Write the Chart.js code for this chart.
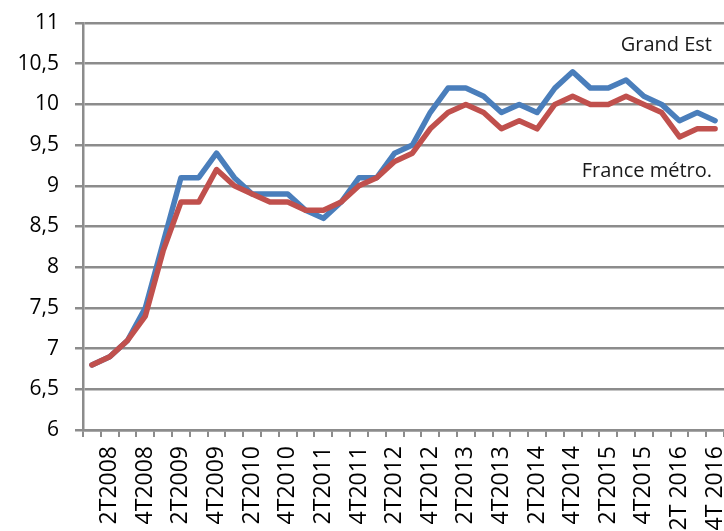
<!DOCTYPE html>
<html lang="fr">
<head>
    <meta charset="UTF-8">
    <title>Grand Est / France métro.</title>
    <style>
        body {
            margin: 0;
            background-color: #ffffff;
        }
        #wrap {
            width: 724px;
            height: 531px;
        }
    </style>
</head>
<body>
    <div id="wrap">
        <canvas id="chart" width="724" height="531"></canvas>
    </div>

    <script src="https://cdn.jsdelivr.net/npm/chart.js"></script>
    <script>
        const quarters = [
            '1T2008', '2T2008', '3T2008', '4T2008',
            '1T2009', '2T2009', '3T2009', '4T2009',
            '1T2010', '2T2010', '3T2010', '4T2010',
            '1T2011', '2T2011', '3T2011', '4T2011',
            '1T2012', '2T2012', '3T2012', '4T2012',
            '1T2013', '2T2013', '3T2013', '4T2013',
            '1T2014', '2T2014', '3T2014', '4T2014',
            '1T2015', '2T2015', '3T2015', '4T2015',
            '1T 2016', '2T 2016', '3T 2016', '4T 2016'
        ];

        const grandEst = [
            6.8, 6.9, 7.1, 7.5, 8.3, 9.1, 9.1, 9.4, 9.1, 8.9, 8.9, 8.9,
            8.7, 8.6, 8.8, 9.1, 9.1, 9.4, 9.5, 9.9, 10.2, 10.2, 10.1, 9.9,
            10.0, 9.9, 10.2, 10.4, 10.2, 10.2, 10.3, 10.1, 10.0, 9.8, 9.9, 9.8
        ];

        const franceMetro = [
            6.8, 6.9, 7.1, 7.4, 8.2, 8.8, 8.8, 9.2, 9.0, 8.9, 8.8, 8.8,
            8.7, 8.7, 8.8, 9.0, 9.1, 9.3, 9.4, 9.7, 9.9, 10.0, 9.9, 9.7,
            9.8, 9.7, 10.0, 10.1, 10.0, 10.0, 10.1, 10.0, 9.9, 9.6, 9.7, 9.7
        ];

        const yMin = 6;
        const yMax = 11;
        const yStep = 0.5;

        const gridColor = '#8c8c8c';
        const font = "'Open Sans', sans-serif";

        // series names written next to the lines
        const seriesLabels = [
            { text: 'Grand Est', x: 712, y: 51 },
            { text: 'France métro.', x: 712, y: 177 }
        ];

        const labelPlugin = {
            id: 'seriesLabels',
            afterDraw(chart) {
                const ctx = chart.ctx;
                ctx.save();
                ctx.font = '20px ' + font;
                ctx.fillStyle = '#1a1a1a';
                ctx.textAlign = 'right';
                ctx.textBaseline = 'alphabetic';
                seriesLabels.forEach(l => ctx.fillText(l.text, l.x, l.y));
                ctx.restore();
            }
        };

        const ctx = document.getElementById('chart').getContext('2d');
        new Chart(ctx, {
            type: 'line',
            data: {
                labels: quarters,
                datasets: [
                    {
                        label: 'France métro.',
                        data: franceMetro,
                        borderColor: '#c0504d',
                        borderWidth: 5.5,
                        pointRadius: 0,
                        tension: 0,
                        borderJoinStyle: 'round',
                        borderCapStyle: 'round',
                        fill: false
                    },
                    {
                        label: 'Grand Est',
                        data: grandEst,
                        borderColor: '#4a7ebb',
                        borderWidth: 5.5,
                        pointRadius: 0,
                        tension: 0,
                        borderJoinStyle: 'round',
                        borderCapStyle: 'round',
                        fill: false
                    }
                ]
            },
            options: {
                responsive: false,
                animation: false,
                devicePixelRatio: 1,
                layout: {
                    padding: { top: 23, right: 0, bottom: 0, left: 0 }
                },
                plugins: {
                    legend: { display: false },
                    tooltip: { enabled: false }
                },
                scales: {
                    x: {
                        offset: true,
                        grid: {
                            offset: true,
                            drawOnChartArea: false,
                            drawTicks: true,
                            tickLength: 7,
                            color: gridColor,
                            lineWidth: 2
                        },
                        border: { color: gridColor, width: 2.5 },
                        ticks: {
                            autoSkip: false,
                            maxRotation: 90,
                            minRotation: 90,
                            padding: 9,
                            color: '#000',
                            font: { family: font, size: 23 },
                            callback: function (value, index) {
                                return index % 2 === 1 ? this.getLabelForValue(value) : '';
                            }
                        },
                        afterFit: scale => {
                            scale.height = 101;
                            scale.paddingLeft = 0;
                            scale.paddingRight = 0;
                        }
                    },
                    y: {
                        min: yMin,
                        max: yMax,
                        grid: {
                            color: gridColor,
                            lineWidth: 2.5,
                            drawTicks: true,
                            tickLength: 8
                        },
                        border: { color: gridColor, width: 2.5 },
                        ticks: {
                            stepSize: yStep,
                            padding: 16,
                            color: '#000',
                            font: { family: font, size: 21 },
                            callback: v => String(v).replace('.', ',')
                        },
                        afterFit: scale => {
                            scale.width = 83;
                            scale.paddingTop = 0;
                            scale.paddingBottom = 0;
                        }
                    }
                }
            },
            plugins: [labelPlugin]
        });
    </script>
</body>
</html>
